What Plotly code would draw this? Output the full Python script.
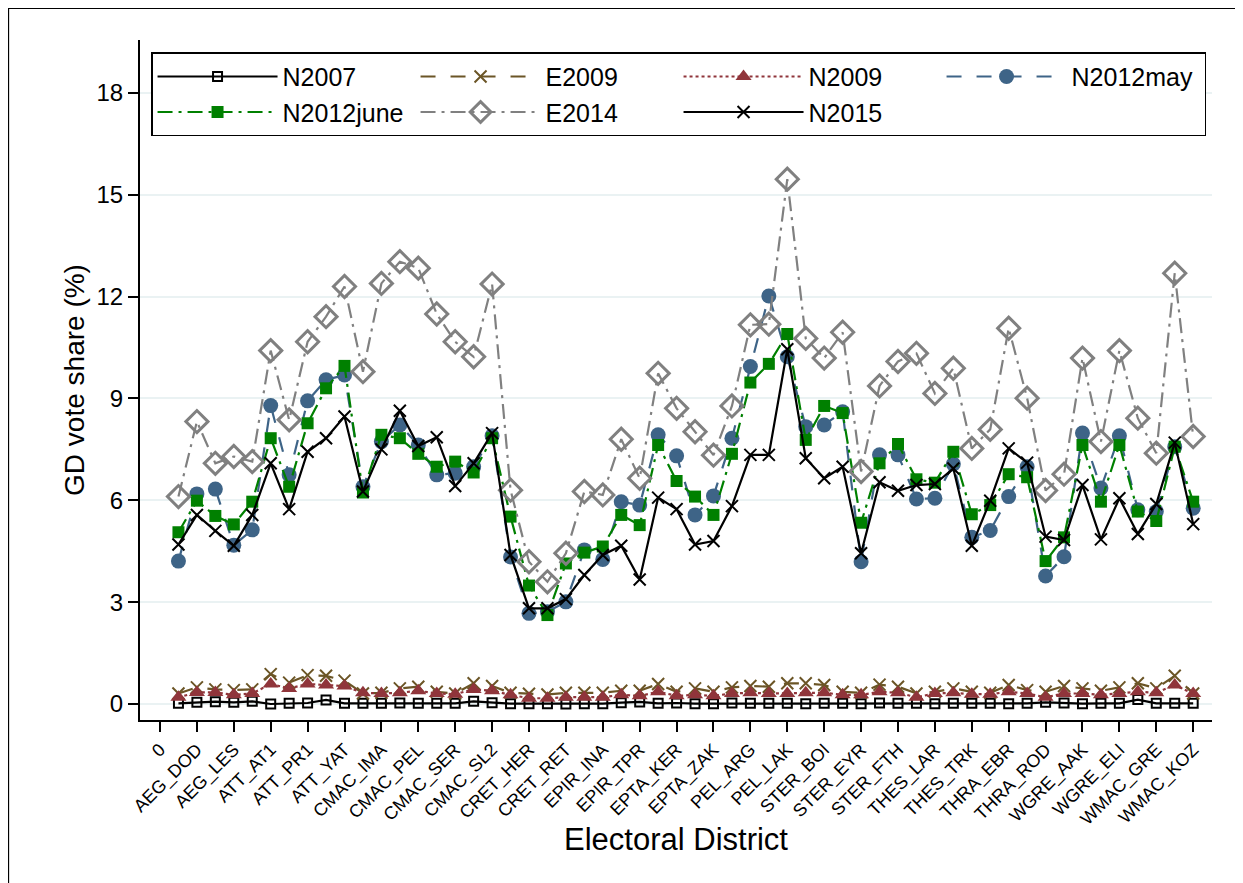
import plotly.graph_objects as go

# district index 1..56; labelled ticks every 2
tick_vals = list(range(0, 57, 2))
tick_text = ["0", "AEG_DOD", "AEG_LES", "ATT_AT1", "ATT_PR1", "ATT_YAT", "CMAC_IMA", "CMAC_PEL",
             "CMAC_SER", "CMAC_SL2", "CRET_HER", "CRET_RET", "EPIR_INA", "EPIR_TPR", "EPTA_KER",
             "EPTA_ZAK", "PEL_ARG", "PEL_LAK", "STER_BOI", "STER_EYR", "STER_FTH", "THES_LAR",
             "THES_TRK", "THRA_EBR", "THRA_ROD", "WGRE_AAK", "WGRE_ELI", "WMAC_GRE", "WMAC_KOZ"]
district = list(range(1, 57))

N2007 = [0.02, 0.05, 0.07, 0.05, 0.08, 0.00, 0.02, 0.03, 0.12, 0.02,
         0.02, 0.02, 0.03, 0.02, 0.02, 0.02, 0.08, 0.04, 0.01, 0.01,
         0.01, 0.00, 0.01, 0.01, 0.04, 0.06, 0.02, 0.03, 0.01, 0.01,
         0.03, 0.02, 0.02, 0.02, 0.01, 0.02, 0.02, 0.01, 0.03, 0.02,
         0.02, 0.01, 0.02, 0.02, 0.02, 0.01, 0.02, 0.05, 0.03, 0.01,
         0.02, 0.02, 0.13, 0.02, 0.02, 0.02]
E2009 = [0.31, 0.49, 0.43, 0.41, 0.43, 0.88, 0.63, 0.85, 0.83, 0.69,
         0.31, 0.33, 0.46, 0.51, 0.36, 0.31, 0.61, 0.53, 0.33, 0.30,
         0.28, 0.33, 0.33, 0.33, 0.39, 0.39, 0.59, 0.36, 0.46, 0.36,
         0.49, 0.53, 0.51, 0.61, 0.61, 0.56, 0.36, 0.33, 0.57, 0.51,
         0.31, 0.36, 0.46, 0.36, 0.33, 0.56, 0.41, 0.36, 0.53, 0.46,
         0.39, 0.49, 0.61, 0.46, 0.83, 0.31]
N2009 = [0.20, 0.34, 0.34, 0.27, 0.31, 0.59, 0.46, 0.59, 0.56, 0.53,
         0.33, 0.31, 0.33, 0.39, 0.31, 0.29, 0.43, 0.39, 0.27, 0.17,
         0.17, 0.20, 0.20, 0.20, 0.27, 0.24, 0.36, 0.24, 0.27, 0.24,
         0.31, 0.33, 0.31, 0.31, 0.33, 0.33, 0.27, 0.27, 0.36, 0.33,
         0.20, 0.31, 0.33, 0.29, 0.29, 0.36, 0.31, 0.20, 0.31, 0.31,
         0.27, 0.31, 0.36, 0.33, 0.56, 0.31]
N2012may = [4.21, 6.19, 6.33, 4.68, 5.13, 8.79, 6.75, 8.93, 9.55, 9.69,
            6.40, 7.73, 8.22, 7.63, 6.75, 6.80, 6.99, 7.90, 4.33, 2.67,
            2.72, 3.01, 4.54, 4.26, 5.96, 5.86, 7.93, 7.31, 5.57, 6.13,
            7.83, 9.94, 12.02, 10.23, 8.17, 8.22, 8.61, 4.19, 7.34, 7.34,
            6.04, 6.06, 7.07, 4.91, 5.11, 6.11, 6.99, 3.77, 4.34, 7.98,
            6.36, 7.90, 5.72, 5.67, 7.58, 5.77]
N2012june = [5.06, 5.99, 5.54, 5.29, 5.96, 7.83, 6.40, 8.27, 9.30, 9.96,
             6.23, 7.93, 7.83, 7.37, 6.99, 7.14, 6.82, 7.83, 5.52, 3.49,
             2.62, 4.14, 4.46, 4.64, 5.57, 5.27, 7.63, 6.57, 6.11, 5.57,
             7.37, 9.47, 10.02, 10.90, 7.78, 8.78, 8.57, 5.34, 7.09, 7.66,
             6.62, 6.52, 7.43, 5.59, 5.86, 6.77, 6.68, 4.21, 4.91, 7.63,
             5.96, 7.63, 5.67, 5.39, 7.58, 5.96]
E2014 = [6.11, 8.32, 7.09, 7.29, 7.14, 10.41, 8.37, 10.67, 11.41, 12.30,
         9.79, 12.39, 13.03, 12.84, 11.49, 10.67, 10.23, 12.37, 6.30, 4.19,
         3.60, 4.44, 6.26, 6.16, 7.80, 6.65, 9.74, 8.71, 8.02, 7.33,
         8.78, 11.17, 11.19, 15.46, 10.77, 10.19, 10.95, 6.85, 9.37, 10.09,
         10.33, 9.15, 9.89, 7.53, 8.09, 11.07, 9.01, 6.29, 6.77, 10.19,
         7.73, 10.41, 8.42, 7.39, 12.69, 7.88]
N2015 = [4.70, 5.57, 5.10, 4.66, 5.57, 7.09, 5.74, 7.43, 7.83, 8.47,
         6.26, 7.50, 8.64, 7.60, 7.86, 6.42, 7.09, 7.98, 4.39, 2.82,
         2.82, 3.09, 3.80, 4.39, 4.66, 3.67, 6.08, 5.74, 4.70, 4.80,
         5.83, 7.34, 7.34, 10.45, 7.24, 6.65, 6.99, 4.44, 6.53, 6.28,
         6.45, 6.48, 6.94, 4.66, 5.99, 7.53, 7.11, 4.93, 4.83, 6.45,
         4.85, 6.06, 5.01, 5.89, 7.70, 5.30]

FONT = "Liberation Sans, Arial, Helvetica, sans-serif"

series = [
    ("N2007", N2007, "#000000", "solid", "square-open", 9, 2),
    ("E2009", E2009, "#6b5526", "longdash", "x-thin-open", 12, 2),
    ("N2009", N2009, "#90353b", "dot", "triangle-up", 14, 2),
    ("N2012may", N2012may, "#3e6487", "longdash", "circle", 15, 2),
    ("N2012june", N2012june, "#008000", "longdashdot", "square", 12, 2),
    ("E2014", E2014, "#808080", "longdashdot", "diamond-open", 17, 3),
    ("N2015", N2015, "#000000", "solid", "x-thin-open", 12, 2),
]

fig = go.Figure()
for name, vals, col, dash, sym, size, lw in series:
    fig.add_trace(go.Scatter(
        x=district, y=vals, name=name, mode="lines+markers",
        line=dict(color=col, dash=dash, width=2.2),
        marker=dict(symbol=sym, size=size, color=col,
                    line=dict(color=col, width=lw if "open" in sym else 0)),
    ))

fig.update_layout(
    width=1235, height=875,
    margin=dict(l=132, r=31, t=32, b=163),
    paper_bgcolor="white", plot_bgcolor="white",
    font=dict(family=FONT, color="black"),
    showlegend=True,
    legend=dict(
        orientation="h", x=0.0103, y=0.982, xanchor="left", yanchor="top",
        bgcolor="white", bordercolor="black", borderwidth=1.5,
        font=dict(size=25, family=FONT), itemwidth=120,
        entrywidth=128, entrywidthmode="pixels", tracegroupgap=0,
    ),
    xaxis=dict(
        range=[-1.084, 57.02], tickmode="array", tickvals=tick_vals, ticktext=tick_text,
        tickangle=-45, tickfont=dict(size=18), ticks="outside", ticklen=10,
        tickcolor="black", tickwidth=1.5,
        showline=True, linecolor="black", linewidth=2, showgrid=False, zeroline=False,
        title=dict(text="Electoral District", font=dict(size=31), standoff=0),
    ),
    yaxis=dict(
        range=[-0.471, 19.56], tickvals=[0, 3, 6, 9, 12, 15, 18],
        tickfont=dict(size=24), ticks="outside", ticklen=10, tickcolor="black", tickwidth=1.5,
        showline=True, linecolor="black", linewidth=2,
        showgrid=True, gridcolor="#eaf2f3", gridwidth=2, zeroline=False,
        title=dict(text="GD vote share (%)", font=dict(size=28), standoff=4),
    ),
    shapes=[
        dict(type="line", xref="paper", yref="paper", x0=-0.123, x1=1.03, y0=1.047, y1=1.047,
             line=dict(color="black", width=2)),
        dict(type="line", xref="paper", yref="paper", x0=-0.123, x1=-0.123, y0=-0.25, y1=1.047,
             line=dict(color="black", width=2)),
    ],
)

fig.write_html("out.html")
